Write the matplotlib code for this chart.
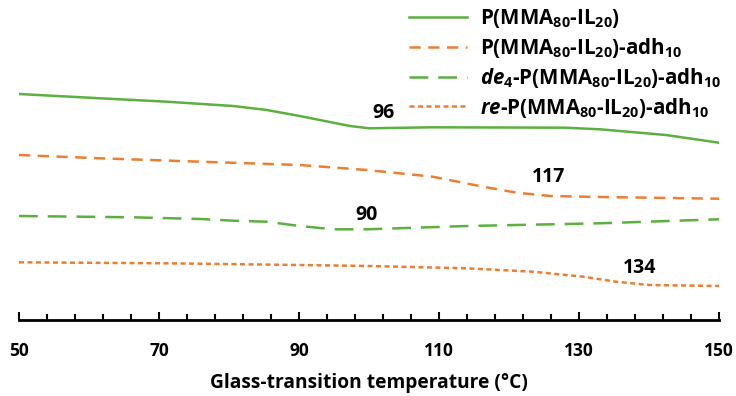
import numpy as np
import matplotlib
matplotlib.use("Agg")
import matplotlib.pyplot as plt

plt.rcParams['font.family'] = ['Open Sans', 'DejaVu Sans']
plt.rcParams['font.weight'] = 'bold'
plt.rcParams['mathtext.fontset'] = 'custom'
plt.rcParams['mathtext.rm'] = 'Open Sans:bold'
plt.rcParams['mathtext.bf'] = 'Open Sans:bold'
plt.rcParams['mathtext.it'] = 'Open Sans:bold:italic'
plt.rcParams['mathtext.default'] = 'bf'

green = "#5bb040"
orange = "#ed7d31"

# curves (temperature in C, signal in arbitrary units)
t_pure = [50, 61.6, 71.1, 80.6, 85.4, 90.1, 94.9, 97.3, 100, 109, 128, 133, 142.4, 150]
y_pure = [226, 221.7, 218.3, 214, 210, 204, 197.3, 194, 191.7, 192.7, 192.3, 190.7, 185, 177.3]

t_adh = [50, 61.6, 75.9, 90.1, 99.7, 109.1, 116.3, 121.1, 125.9, 133, 150]
y_adh = [165, 161.7, 158.3, 155, 150, 143.3, 133.3, 127.3, 124, 123, 121.3]

t_de = [50, 66.3, 75.9, 80.6, 85.4, 90.1, 94.9, 99.7, 114, 133, 150]
y_de = [104, 102.7, 101, 99.3, 98.3, 94, 90.7, 90.7, 94, 96.7, 100.7]

t_re = [50, 71, 90, 100, 114, 123.4, 130.6, 135.3, 140, 150]
y_re = [57.7, 56.7, 55, 54, 51.7, 48.3, 43.3, 38.3, 35, 34]

labels = [r"P(MMA$_{80}$-IL$_{20}$)",
          r"P(MMA$_{80}$-IL$_{20}$)-adh$_{10}$",
          r"$\mathit{de_4}$-P(MMA$_{80}$-IL$_{20}$)-adh$_{10}$",
          r"$\mathit{re}$-P(MMA$_{80}$-IL$_{20}$)-adh$_{10}$"]

tg_text = ["96", "117", "90", "134"]
tg_x = [102.1, 125.7, 99.6, 138.7]
tg_y = [207, 143, 105, 52]

x_ticks = [50, 70, 90, 110, 130, 150]

fig = plt.figure(figsize=(7.36, 3.96), dpi=100)
ax = fig.add_axes([19 / 736, 76 / 396, 700 / 736, 320 / 396])

lw = 1.8
ax.plot(t_pure, y_pure, color=green, lw=lw, label=labels[0])
ax.plot(t_adh, y_adh, color=orange, lw=lw, dashes=(4.5, 3), label=labels[1])
ax.plot(t_de, y_de, color=green, lw=lw, dashes=(7.5, 4), label=labels[2])
ax.plot(t_re, y_re, color=orange, lw=lw, dashes=(2, 1.4), label=labels[3])

for s, x, y in zip(tg_text, tg_x, tg_y):
    ax.text(x, y, s, ha="center", va="center", fontsize=14, fontweight="bold")

ax.set_xlim(50, 150)
ax.set_ylim(0, 320)
ax.set_xticks(x_ticks)
ax.set_xticks(np.arange(50, 151, 4), minor=True)
ax.tick_params(axis="x", which="major", direction="in", length=6, width=1.5, pad=16, labelsize=12.5)
ax.tick_params(axis="x", which="minor", direction="in", length=4, width=1.5)
ax.set_yticks([])
for side in ["left", "right", "top"]:
    ax.spines[side].set_visible(False)
ax.spines["bottom"].set_linewidth(2)
ax.patch.set_alpha(0)

ax.set_xlabel("Glass-transition temperature (°C)", fontsize=13.8, fontweight="bold", labelpad=9)

ax.legend(loc="upper right", bbox_to_anchor=(1.03, 1.035), frameon=False, fontsize=14.8,
          handlelength=2.8, handletextpad=0.65, labelspacing=0.28)

fig.savefig("out.png", dpi=100)
